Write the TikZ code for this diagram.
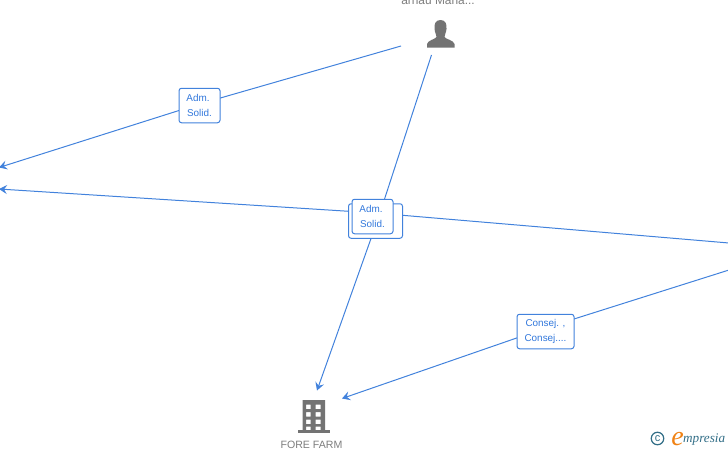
\documentclass[tikz,border=0pt]{standalone}
\usepackage{fontspec}
\setmainfont{Liberation Sans}
\newfontfamily\logofont{Liberation Serif}
\usetikzlibrary{arrows.meta, positioning}
\definecolor{linkblue}{RGB}{66,130,220}
\definecolor{labelblue}{RGB}{50,120,220}
\definecolor{icongray}{RGB}{115,115,115}
\definecolor{namegray}{RGB}{125,125,125}
\definecolor{logoteal}{RGB}{50,110,135}
\definecolor{logoorange}{RGB}{240,130,20}
\tikzset{
    % Role labels on the links
    rolebox/.style={rectangle, rounded corners=2.5pt, fill=white, draw=linkblue, line width=1pt, minimum height=34.5pt, font=\fontsize{9.9}{15}\selectfont, text=labelblue, align=center, inner sep=0pt},
    % Link arrows
    linkarrow/.style={-{Stealth[length=8pt, width=9pt, inset=3pt]}, line width=1pt, color=linkblue},
    % Names under and over the icons
    namelabel/.style={font=\fontsize{10.6}{12}\selectfont, text=namegray, inner sep=0pt},
    iconfill/.style={fill=icongray, draw=none},
}
\begin{document}
\begin{tikzpicture}[x=1pt, y=-1pt]
\useasboundingbox (0,0) rectangle (728,450);

% ============================================================
% End points of the links
% ============================================================
\coordinate (personW) at (401,46);
\coordinate (personS) at (431.5,55);
\coordinate (farmN) at (317,390.5);
\coordinate (farmE) at (342,398.5);
\coordinate (offL1) at (-1,167.5);
\coordinate (offL2) at (-1,189);
\coordinate (offR1) at (729,243);
\coordinate (offR2) at (729,270);
\coordinate (bendA) at (199.5,104);
\coordinate (bendB) at (379,216);
\coordinate (bendC) at (375.5,213);
\coordinate (bendD) at (545.5,328);

% ============================================================
% Links
% ============================================================
\draw[linkarrow] (personW) -- (bendA) -- (offL1);
\draw[linkarrow] (personS) -- (bendB) -- (farmN);
\draw[linkarrow] (offR1) -- (bendC) -- (offL2);
\draw[linkarrow] (offR2) -- (bendD) -- (farmE);

% ============================================================
% Role labels
% ============================================================
\node[rolebox, minimum width=41pt] (roleA) at (199.5,105.5) {Adm.\hspace*{3pt}\\Solid.};
\node[rolebox, minimum width=54pt] (roleC) at (375.5,221) {};
\node[rolebox, minimum width=41pt] (roleB) at (372.5,216.5) {Adm.\hspace*{3pt}\\Solid.};
\node[rolebox, minimum width=57pt] (roleD) at (545.5,331.5) {Consej. ,\\Consej....};

% ============================================================
% Person icon
% ============================================================
\fill[iconfill] (440.5,20) .. controls (435.5,20) and (434,24) .. (434.5,29) .. controls (435,33) and (436.5,35) .. (436.5,37) .. controls (435,39.5) and (428,40) .. (427,44) -- (427,47.5) -- (454.5,47.5) -- (454.5,44) .. controls (453.5,40) and (446,39.5) .. (444.5,37) .. controls (444.5,35) and (446,33) .. (446.5,29) .. controls (447,24) and (445.5,20) .. (440.5,20) -- cycle;
\node[namelabel, font=\fontsize{11.9}{12}\selectfont, anchor=base] (personname) at (438,4.5) {arnau Maria...};

% ============================================================
% Building icon
% ============================================================
\fill[iconfill] (297.5,430) rectangle (329.5,432.5);
\fill[iconfill, even odd rule] (302.5,400) rectangle (325,431)
    (306,404.5) rectangle (310.5,409) (315.5,404.5) rectangle (320.5,409)
    (306,412) rectangle (310.5,416.5) (315.5,412) rectangle (320.5,416.5)
    (306,419.5) rectangle (310.5,424) (315.5,419.5) rectangle (320.5,424)
    (306,426.5) rectangle (310.5,431) (315.5,426.5) rectangle (320.5,431);
\node[namelabel] (farmname) at (311.5,445) {FORE FARM};

% ============================================================
% Logo
% ============================================================
\node[circle, draw=logoteal, line width=1.2pt, minimum size=12.5pt, inner sep=0pt, text=logoteal, font=\fontsize{11}{11}\selectfont] (logoc) at (657.5,438.5) {c};
\node[font=\logofont\itshape\fontsize{28}{28}\selectfont, text=logoorange, inner sep=0pt, anchor=base] (logoe) at (677.5,445) {e};
\node[font=\logofont\itshape\fontsize{13.2}{13}\selectfont, text=logoteal, inner sep=0pt, anchor=base west] (logotext) at (683,442) {mpresia};

\end{tikzpicture}
\end{document}
